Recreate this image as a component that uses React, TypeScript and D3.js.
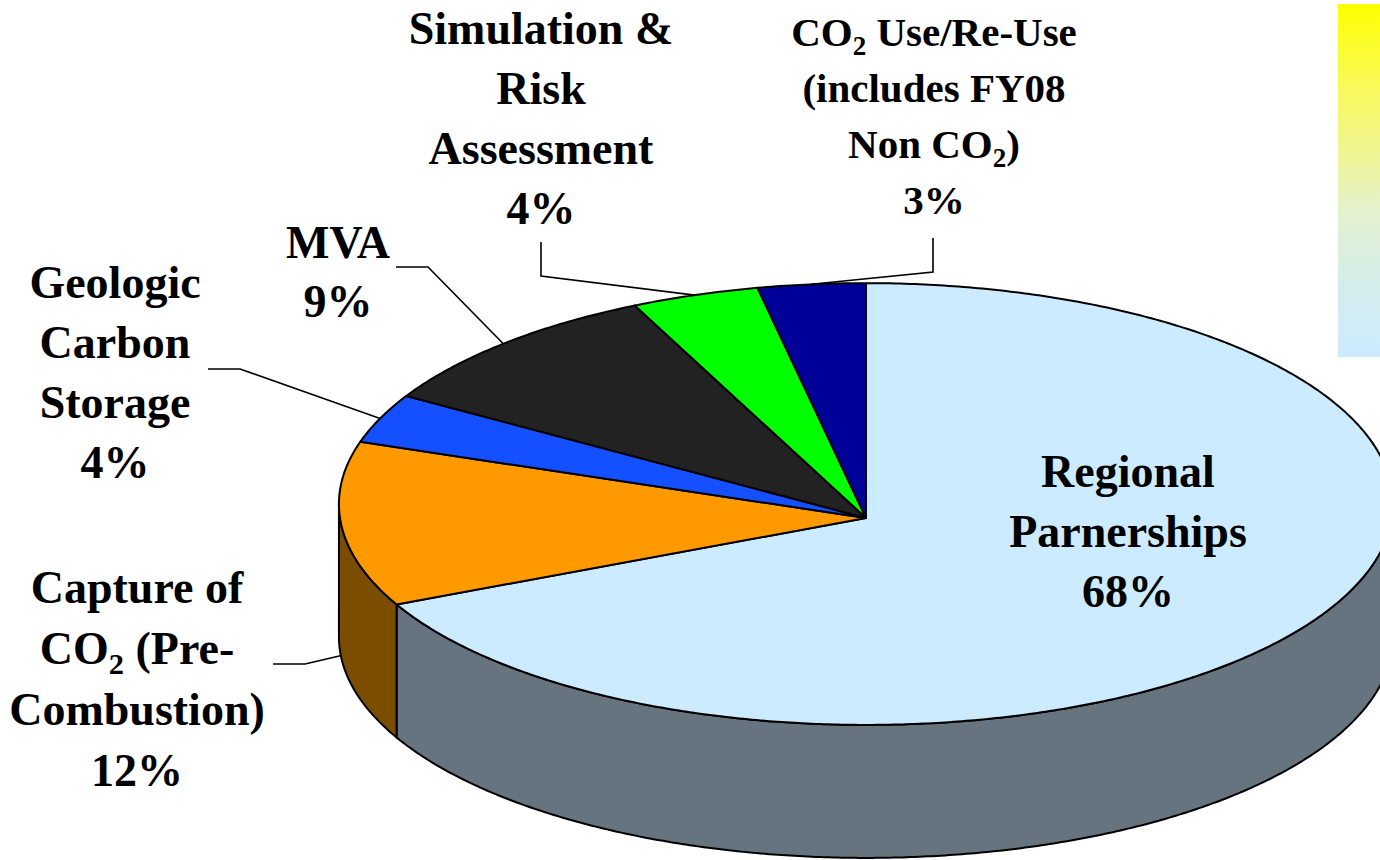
import { useEffect, useRef } from "react"
import * as d3 from "d3"

// slices, clockwise from 12 o'clock
const categories = [
  "Regional Parnerships",
  "Capture of CO₂ (Pre-Combustion)",
  "Geologic Carbon Storage",
  "MVA",
  "Simulation & Risk Assessment",
  "CO₂ Use/Re-Use (includes FY08 Non CO₂)",
]
const values = [68.4, 12.1, 3.5, 9.2, 3.7, 3.1]
const labelLines = [
  ["Regional", "Parnerships"],
  ["Capture of", "CO₂ (Pre-", "Combustion)"],
  ["Geologic", "Carbon", "Storage"],
  ["MVA"],
  ["Simulation &", "Risk", "Assessment"],
  ["CO₂ Use/Re-Use", "(includes FY08", "Non CO₂)"],
]
const topColors = ["#CCEBFF", "#FF9900", "#1450FF", "#222222", "#00FF00", "#000099"]
const sideColors = ["#65747E", "#7B4D00", "#0A2880", "#111111", "#008000", "#00004C"]

// label placement (text centre, first baseline, line gap, font size, leader elbow)
const labelLayout = [
  { x: 1128, y: 487, gap: 60, size: 46, elbow: null },
  { x: 137, y: 603, gap: 61, size: 46, elbow: [[273, 664], [305, 664]] },
  { x: 115, y: 298, gap: 60, size: 46, elbow: [[208, 369], [240, 369]] },
  { x: 338, y: 258, gap: 59, size: 46, elbow: [[396, 267], [428, 267]] },
  { x: 541, y: 44, gap: 60, size: 46, elbow: [[541, 242], [541, 276]] },
  { x: 934, y: 46, gap: 56, size: 41, elbow: [[933, 238], [933, 272]] },
]

const W = 1380
const H = 860
const CX = 866
const CY = 518
const RX = 526
const RY = 220
const K = -0.0633 // slight perspective skew of the disc
const DEPTH = 133
const FONT = "'Liberation Serif', 'Times New Roman', Times, serif"

// angle (d3.pie convention) -> screen point on rim
function proj(a: number, dz = 0): [number, number] {
  const u = Math.sin(a)
  const v = -Math.cos(a)
  const w = 1 - K * v
  return [CX + (RX * u) / w, CY + (RY * v) / w + dz]
}

function rim(a0: number, a1: number, dz = 0) {
  const n = Math.max(2, Math.ceil(((a1 - a0) * 180) / Math.PI / 0.5))
  return d3.range(n + 1).map(i => proj(a0 + ((a1 - a0) * i) / n, dz))
}

export default function App() {
  const svgRef = useRef<SVGSVGElement>(null)

  useEffect(() => {
    const svg = d3.select(svgRef.current)
    svg.selectAll("*").remove()

    const defs = svg.append("defs")
    const grad = defs.append("linearGradient")
      .attr("id", "barGrad")
      .attr("x1", 0).attr("y1", 0).attr("x2", 0).attr("y2", 1)
    ;[[0, "#FFFF00"], [0.25, "#F7F95E"], [0.45, "#EEF49C"], [0.6, "#E2F1D2"], [0.8, "#D4ECEB"], [1, "#CCEBFF"]]
      .forEach(([o, c]) => grad.append("stop").attr("offset", o as number).attr("stop-color", c as string))

    svg.append("rect").attr("width", W).attr("height", H).attr("fill", "#fff")

    svg.append("rect")
      .attr("x", 1338).attr("y", 4).attr("width", 42).attr("height", 353)
      .attr("fill", "url(#barGrad)")

    const arcs = d3.pie<number>().sort(null).startAngle(0).endAngle(2 * Math.PI)(values)
    const line = d3.line()
    const aR = Math.acos(-K)
    const aL = 2 * Math.PI - aR

    const g = svg.append("g")

    // visible side walls
    arcs.forEach((d, i) => {
      const s0 = Math.max(d.startAngle, aR)
      const s1 = Math.min(d.endAngle, aL)
      if (s1 <= s0) return
      const top = rim(s0, s1)
      const bottom = rim(s0, s1, DEPTH).reverse()
      g.append("path")
        .attr("d", line([...top, ...bottom]) + "Z")
        .attr("fill", sideColors[i])
        .attr("stroke", "#000")
        .attr("stroke-width", 2)
        .attr("stroke-linejoin", "round")
    })

    // top faces
    arcs.forEach((d, i) => {
      const pts: [number, number][] = [[CX, CY], ...rim(d.startAngle, d.endAngle)]
      g.append("path")
        .attr("d", line(pts) + "Z")
        .attr("fill", topColors[i])
        .attr("stroke", "#000")
        .attr("stroke-width", 2)
        .attr("stroke-linejoin", "round")
    })

    // leader lines
    arcs.forEach((d, i) => {
      const lay = labelLayout[i]
      if (!lay.elbow) return
      const mid = (d.startAngle + d.endAngle) / 2
      const front = -Math.cos(mid) > K && mid > aR && mid < aL
      const end = proj(mid, front ? DEPTH - 3 : 0)
      svg.append("path")
        .attr("d", line([...(lay.elbow as [number, number][]), end]))
        .attr("fill", "none")
        .attr("stroke", "#000")
        .attr("stroke-width", 1.6)
    })

    // labels
    arcs.forEach((d, i) => {
      const lay = labelLayout[i]
      const lines = [...labelLines[i], `${Math.round(d.data)}%`]
      lines.forEach((txt, j) => {
        const t = svg.append("text")
          .attr("x", lay.x)
          .attr("y", lay.y + j * lay.gap)
          .attr("text-anchor", "middle")
          .attr("font-family", FONT)
          .attr("font-weight", "bold")
          .attr("font-size", lay.size)
          .attr("fill", "#000")
        const parts = txt.split("₂")
        const sub = lay.size * 0.22
        parts.forEach((p, k) => {
          if (k > 0) {
            t.append("tspan")
              .attr("font-size", lay.size * 0.66)
              .attr("dy", sub)
              .text("2")
          }
          if (p.length) {
            t.append("tspan")
              .attr("dy", k > 0 ? -sub : 0)
              .style("white-space", "pre")
              .text(p)
          }
        })
      })
    })
  }, [])

  return (
    <div style={{ position: "absolute", left: 0, top: 0 }}>
      <svg ref={svgRef} width={W} height={H} style={{ display: "block" }} aria-label={categories.join(", ")} />
    </div>
  )
}
